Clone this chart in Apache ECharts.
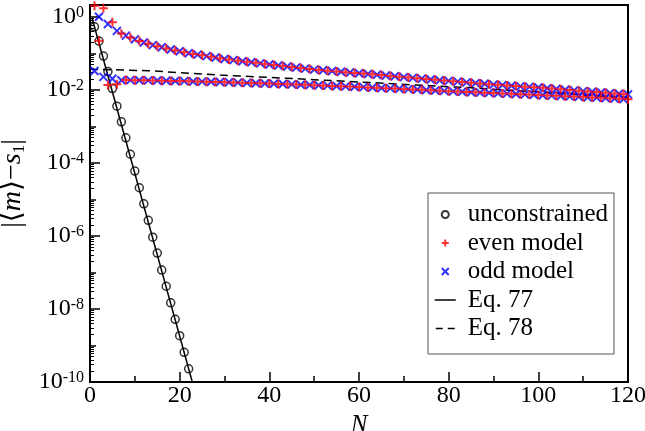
<!DOCTYPE html>
<html>
<head>
<meta charset="utf-8">
<script src="https://cdn.jsdelivr.net/npm/echarts@6/dist/echarts.min.js"></script>
<style>
  html, body { margin: 0; padding: 0; background: #fff; }
  #chart { width: 645px; height: 431px; }
</style>
</head>
<body>
<div id="chart"></div>
<script>
// values, N = 1, 2, 3 ...
var unconstrained = [
  0.54, 0.22, 0.085, 0.032, 0.011, 3.6e-3, 1.35e-3, 4.9e-4, 1.74e-4, 6.0e-5, 2.1e-5,
  7.6e-6, 2.7e-6, 9.3e-7, 3.4e-7, 1.17e-7, 4.2e-8, 1.48e-8, 5.2e-9, 1.86e-9, 6.5e-10, 2.3e-10
];

var evenModel = [
  2.04, 0.224, 1.74, 0.0138, 0.716, 0.0145, 0.355, 0.0188, 0.275, 0.0186,
  0.221, 0.0185, 0.184, 0.0183, 0.158, 0.0181, 0.138, 0.0178, 0.122, 0.0176,
  0.108, 0.0174, 0.0977, 0.0171, 0.0891, 0.0169, 0.0813, 0.0167, 0.0741, 0.0164,
  0.0684, 0.0161, 0.0638, 0.0158, 0.0596, 0.0155, 0.0556, 0.0153, 0.0519, 0.0150,
  0.0485, 0.0147, 0.0455, 0.0144, 0.0427, 0.0142, 0.0400, 0.0139, 0.0375, 0.0136,
  0.0355, 0.0133, 0.0339, 0.0130, 0.0324, 0.0127, 0.0309, 0.0125, 0.0295, 0.0122,
  0.0282, 0.0118, 0.0269, 0.0115, 0.0257, 0.0112, 0.0244, 0.0110, 0.0232, 0.0107,
  0.0221, 0.0104, 0.0210, 0.0102, 0.0200, 0.00986, 0.0191, 0.00959, 0.0182, 0.00933,
  0.0174, 0.00908, 0.0166, 0.00883, 0.0158, 0.00863, 0.0151, 0.00847, 0.0145, 0.00832,
  0.0139, 0.00809, 0.0134, 0.00787, 0.0129, 0.00767, 0.0124, 0.00750, 0.0120, 0.00733,
  0.0115, 0.00713, 0.0110, 0.00694, 0.0105, 0.00676, 0.0100, 0.00661, 0.00955, 0.00646,
  0.00914, 0.00628, 0.00877, 0.00611, 0.00841, 0.00595, 0.00807, 0.00579, 0.00774, 0.00562
];

var oddModel = [
  0.0331, 1.02, 0.0229, 0.646, 0.0204, 0.417, 0.0186, 0.309, 0.0187, 0.245,
  0.0186, 0.200, 0.0184, 0.170, 0.0182, 0.148, 0.0179, 0.129, 0.0177, 0.115,
  0.0175, 0.102, 0.0172, 0.0933, 0.0170, 0.0851, 0.0168, 0.0776, 0.0166, 0.0708,
  0.0163, 0.0661, 0.0160, 0.0617, 0.0157, 0.0575, 0.0154, 0.0537, 0.0151, 0.0501,
  0.0148, 0.0470, 0.0146, 0.0441, 0.0143, 0.0413, 0.0140, 0.0387, 0.0138, 0.0363,
  0.0135, 0.0347, 0.0132, 0.0331, 0.0129, 0.0316, 0.0126, 0.0302, 0.0123, 0.0288,
  0.0120, 0.0275, 0.0117, 0.0263, 0.0114, 0.0251, 0.0111, 0.0238, 0.0108, 0.0226,
  0.0106, 0.0215, 0.0103, 0.0205, 0.0100, 0.0195, 0.00973, 0.0186, 0.00946, 0.0178,
  0.00920, 0.0170, 0.00895, 0.0162, 0.00871, 0.0155, 0.00855, 0.0148, 0.00839, 0.0141,
  0.00820, 0.0136, 0.00798, 0.0131, 0.00776, 0.0126, 0.00759, 0.0122, 0.00741, 0.0117,
  0.00723, 0.0112, 0.00703, 0.0107, 0.00684, 0.0102, 0.00669, 0.00977, 0.00653, 0.00933,
  0.00637, 0.00895, 0.00620, 0.00859, 0.00603, 0.00824, 0.00587, 0.00791, 0.00570, 0.00759
];

// [N, value] points of the two fitted curves
var eq77 = [[0.5, 0.9], [23, 8.3e-11]];
var eq78 = [[0, 0.0372], [13, 0.0339], [29, 0.0257], [49, 0.0195], [85, 0.0115], [120, 0.00617]];

var labelDecades = [-10, -8, -6, -4, -2, 0];
var oddDecades = [-9, -7, -5, -3, -1];

var FONT = 'Liberation Serif, DejaVu Serif';
var yMin = -10, yMax = 0.33;

function seriesPoints(values) {
  return values.map(function (v, i) { return [i + 1, Math.log10(v)]; });
}
function curvePoints(pairs) {
  return pairs.map(function (p) { return [p[0], Math.log10(p[1])]; });
}

// minor ticks at 2..9 x 10^d
var minorTicks = [];
for (var d = -10; d <= 0; d++) {
  for (var k = 2; k <= 9; k++) {
    var t = d + Math.log10(k);
    if (t < yMax) minorTicks.push(t);
  }
}

var gridBox = { left: 90, right: 17, top: 5, bottom: 49 };

// extra grids only carry the shorter y ticks
function tickGrid() {
  return {
    left: gridBox.left, right: gridBox.right, top: gridBox.top, bottom: gridBox.bottom,
    show: false, outerBoundsMode: 'none', containLabel: false
  };
}
function hiddenX(gi) {
  return { type: 'value', gridIndex: gi, min: 0, max: 120, show: false };
}
function tickY(gi, values, len, width) {
  return {
    type: 'value', gridIndex: gi, min: yMin, max: yMax, position: 'left',
    axisLine: { show: false, onZero: false },
    axisTick: { show: true, inside: true, length: len, customValues: values, lineStyle: { color: '#000', width: width } },
    axisLabel: { show: false },
    splitLine: { show: false }
  };
}

var option = {
  animation: false,
  textStyle: { fontFamily: FONT },
  grid: [
    {
      left: gridBox.left, right: gridBox.right, top: gridBox.top, bottom: gridBox.bottom,
      show: true, borderColor: '#000', borderWidth: 2,
      outerBoundsMode: 'none', containLabel: false
    },
    tickGrid(),
    tickGrid()
  ],
  xAxis: [
    {
      type: 'value',
      min: 0, max: 120, interval: 20,
      name: 'N',
      nameLocation: 'middle',
      nameGap: 23,
      nameTextStyle: { fontFamily: FONT, fontSize: 25, fontStyle: 'italic', color: '#000' },
      axisLine: { onZero: false, lineStyle: { color: '#000', width: 2 } },
      axisTick: { inside: true, length: 10, lineStyle: { color: '#000', width: 1.5 } },
      minorTick: { show: true, splitNumber: 2, length: 6, lineStyle: { color: '#000', width: 1.5 } },
      axisLabel: { fontFamily: FONT, fontSize: 24, color: '#000', margin: 2 },
      splitLine: { show: false }
    },
    hiddenX(1),
    hiddenX(2)
  ],
  yAxis: [
    {
      type: 'value', min: yMin, max: yMax, position: 'left',
      name: '{t||\u27e8}{i|m}{t|\u27e9\u2212}{i|s}{sub|1}{t||}',
      nameLocation: 'middle',
      nameGap: 56,
      nameRotate: 90,
      nameTextStyle: {
        fontFamily: FONT,
        padding: [0, 0, 0, 20],
        rich: {
          t: { fontFamily: FONT, fontSize: 28, color: '#000', lineHeight: 30 },
          i: { fontFamily: FONT, fontSize: 28, fontStyle: 'italic', color: '#000', lineHeight: 30 },
          sub: { fontFamily: FONT, fontSize: 17, color: '#000', lineHeight: 14, verticalAlign: 'bottom' }
        }
      },
      axisLine: { show: true, onZero: false, lineStyle: { color: '#000', width: 2 } },
      axisTick: { inside: true, length: 10, customValues: labelDecades, lineStyle: { color: '#000', width: 1.5 } },
      axisLabel: {
        customValues: labelDecades,
        margin: 6,
        fontFamily: FONT,
        formatter: function (v) { return '{b|10}{s|' + v + '}'; },
        rich: {
          b: { fontFamily: FONT, fontSize: 24, color: '#000', lineHeight: 24 },
          s: { fontFamily: FONT, fontSize: 16, color: '#000', lineHeight: 16, verticalAlign: 'top' }
        }
      },
      splitLine: { show: false }
    },
    tickY(1, oddDecades, 6, 1.5),
    tickY(2, minorTicks, 4, 1)
  ],
  legend: {
    orient: 'vertical',
    left: 428, top: 193,
    itemWidth: 21, itemHeight: 7, itemGap: 3.5,
    padding: [9, 6, 13, 6],
    borderColor: '#555', borderWidth: 1,
    backgroundColor: '#fff',
    textStyle: { fontFamily: FONT, fontSize: 25, color: '#000', lineHeight: 25, padding: [0, 0, 0, 7] },
    data: [
      'unconstrained', 'even model', 'odd model',
      {
        name: 'Eq. 77', icon: 'path://M0,0L0,0M0,3.5L21,3.5M0,7L0,7',
        itemStyle: { color: 'rgba(0,0,0,0)', borderColor: '#000', borderWidth: 1.5 }
      },
      {
        name: 'Eq. 78', icon: 'path://M0,0L0,0M0,3.5L7,3.5M12,3.5L19,3.5M0,7L0,7',
        itemStyle: { color: 'rgba(0,0,0,0)', borderColor: '#000', borderWidth: 1.5 }
      }
    ]
  },
  series: [
    {
      name: 'Eq. 77', type: 'line', data: curvePoints(eq77),
      symbol: 'none', z: 1,
      lineStyle: { color: '#000', width: 1.5 },
      itemStyle: { color: '#000' }
    },
    {
      name: 'Eq. 78', type: 'line', data: curvePoints(eq78),
      symbol: 'none', z: 1,
      lineStyle: { color: '#000', width: 1.5, type: [8, 5] },
      itemStyle: { color: '#000' }
    },
    {
      name: 'unconstrained', type: 'scatter', data: seriesPoints(unconstrained),
      symbol: 'circle', symbolSize: 8, z: 3,
      itemStyle: { color: 'rgba(0,0,0,0)', borderColor: '#000', borderWidth: 1.5 }
    },
    {
      name: 'odd model', type: 'scatter', data: seriesPoints(oddModel),
      symbol: 'path://M0,0L10,10M10,0L0,10', symbolSize: 8, z: 4,
      itemStyle: { color: 'rgba(0,0,0,0)', borderColor: '#0000ff', borderWidth: 2 }
    },
    {
      name: 'even model', type: 'scatter', data: seriesPoints(evenModel),
      symbol: 'path://M5,0L5,10M0,5L10,5', symbolSize: 9, z: 5,
      itemStyle: { color: 'rgba(0,0,0,0)', borderColor: '#ff0000', borderWidth: 2 }
    }
  ]
};

var chart = echarts.init(document.getElementById('chart'));
chart.setOption(option);
</script>
</body>
</html>
